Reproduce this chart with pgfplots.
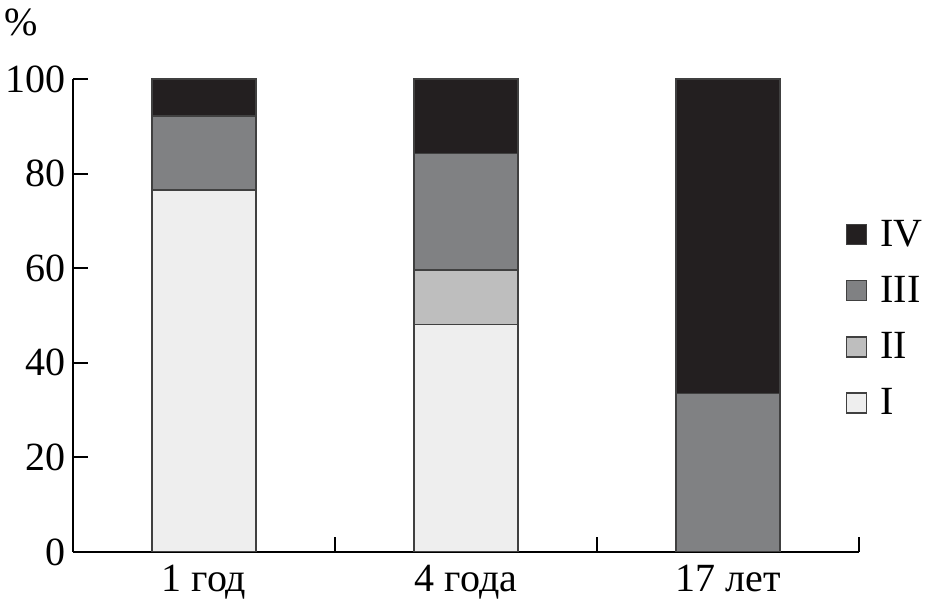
\documentclass[border=0pt]{standalone}
\usepackage{fontspec}
\setmainfont{Liberation Serif}
\usepackage{pgfplots}
\pgfplotsset{compat=1.18}
\definecolor{cI}{RGB}{238,238,238}
\definecolor{cII}{RGB}{190,190,190}
\definecolor{cIII}{RGB}{128,129,131}
\definecolor{cIV}{RGB}{35,31,32}
\definecolor{edge}{RGB}{64,64,64}
\newcommand{\bigf}{\fontsize{20}{24}\selectfont}
\begin{document}
\begin{tikzpicture}
\begin{axis}[
  scale only axis, width=393pt, height=236.5pt,
  ybar stacked, bar width=52pt,
  xmin=-0.5, xmax=2.5, ymin=0, ymax=100,
  axis lines=left,
  axis line style={-, line width=1pt, black},
  tick align=inside,
  tick style={line width=1pt, black},
  major tick length=7.5pt,
  xtick={0.5,1.5,2.5}, xticklabels={},
  extra x ticks={0,1,2},
  extra x tick labels={1 год,4 года,17 лет},
  extra x tick style={major tick length=0pt},
  ytick={0,20,...,100},
  /pgf/number format/assume math mode=true,
  ticklabel style={font=\bigf},
  every x tick label/.style={yshift=-3pt},
  reverse legend,
  legend style={at={(rel axis cs:0.975,0.72)}, anchor=north west,
    draw=none, fill=none, font=\bigf, row sep=9.5pt,
    legend cell align=left},
  legend image code/.code={\draw[#1, draw=edge, line width=0.75pt] (0pt,-5pt) rectangle (10pt,5pt);
    \path[draw=none, fill=none] (15pt,0pt);},
  every axis plot/.append style={draw=edge, line width=0.75pt},
]
\addplot[fill=cI] coordinates {(0,76.5) (1,48.1) (2,0)};
\addlegendentry{I}
\addplot[fill=cII] coordinates {(0,0) (1,11.5) (2,0)};
\addlegendentry{II}
\addplot[fill=cIII] coordinates {(0,15.7) (1,24.7) (2,33.5)};
\addlegendentry{III}
\addplot[fill=cIV] coordinates {(0,7.8) (1,15.7) (2,66.5)};
\addlegendentry{IV}
\end{axis}
\node[font=\bigf] at (-26pt,265pt) {\%};
\pgfresetboundingbox
\path (-36.5pt,-31pt) rectangle (427pt,276pt);
\end{tikzpicture}
\end{document}
